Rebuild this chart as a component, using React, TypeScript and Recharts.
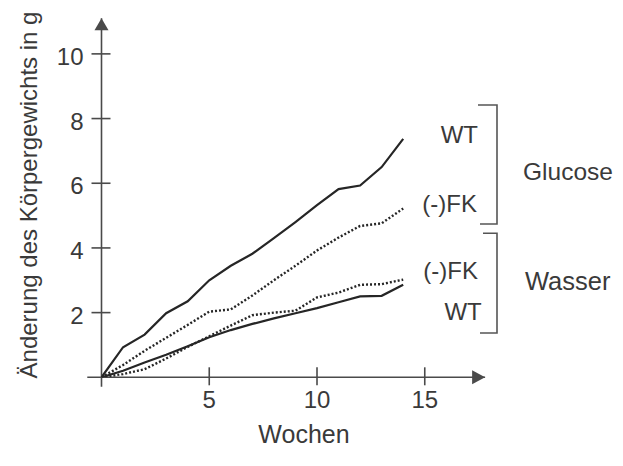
import {
  LineChart,
  Line,
  XAxis,
  YAxis,
  ReferenceLine,
  ReferenceDot,
  Customized,
} from 'recharts'

const weeks = [0, 1, 2, 3, 4, 5, 6, 7, 8, 9, 10, 11, 12, 13, 14]
const glucoseWT = [0, 0.93, 1.32, 1.98, 2.35, 3.0, 3.45, 3.82, 4.3, 4.8, 5.32, 5.82, 5.93, 6.5, 7.37]
const glucoseFK = [0, 0.38, 0.82, 1.22, 1.62, 2.03, 2.1, 2.53, 3.0, 3.45, 3.92, 4.32, 4.68, 4.76, 5.22]
const wasserFK = [0, 0.1, 0.25, 0.58, 0.94, 1.27, 1.6, 1.92, 2.0, 2.06, 2.47, 2.62, 2.86, 2.88, 3.02]
const wasserWT = [0, 0.2, 0.46, 0.7, 0.96, 1.24, 1.46, 1.65, 1.82, 1.98, 2.14, 2.32, 2.5, 2.52, 2.86]

const xTicks = [5, 10, 15]
const yTicks = [2, 4, 6, 8, 10]

const data = weeks.map((w, i) => ({
  week: w,
  glucoseWT: glucoseWT[i],
  glucoseFK: glucoseFK[i],
  wasserFK: wasserFK[i],
  wasserWT: wasserWT[i],
}))

const ink = '#3a3a3a'
const axisInk = '#4a4a4a'
const lineInk = '#262626'
const font = '"Liberation Sans", Arial, sans-serif'

function YTick({ x, y, payload }: any) {
  return (
    <g>
      <line x1={x - 10} x2={x + 9} y1={y} y2={y} stroke={axisInk} strokeWidth={1.6} />
      <text x={x - 18} y={y + 11} textAnchor="end" fontSize={24} fill={ink} fontFamily={font}>
        {payload.value}
      </text>
    </g>
  )
}

function XTick({ x, y, payload }: any) {
  return (
    <g>
      <line x1={x} x2={x} y1={y - 10} y2={y + 8} stroke={axisInk} strokeWidth={1.6} />
      <text x={x} y={y + 31} textAnchor="middle" fontSize={24} fill={ink} fontFamily={font}>
        {payload.value}
      </text>
    </g>
  )
}

const arrowRight = ({ cx, cy }: any) => (
  <path d={`M${cx},${cy} L${cx - 13},${cy - 7} L${cx - 13},${cy + 7} Z`} fill={axisInk} />
)
const arrowUp = ({ cx, cy }: any) => (
  <path d={`M${cx},${cy} L${cx - 7},${cy + 12} L${cx + 7},${cy + 12} Z`} fill={axisInk} />
)

function Annotations() {
  const t = { fontSize: 24, fill: ink, fontFamily: font }
  const b = { stroke: '#555', strokeWidth: 1.6, fill: 'none' }
  return (
    <g>
      <text {...t} x={28.5} y={187} textAnchor="middle" transform="rotate(-90, 28.5, 187)">
        Änderung des Körpergewichts in g
      </text>
      <text {...t} fontSize={25} x={296} y={435} textAnchor="middle">Wochen</text>
      <text {...t} x={470} y={134.6} textAnchor="end">WT</text>
      <text {...t} x={469} y={203.7} textAnchor="end">(-)FK</text>
      <text {...t} x={470} y={271.3} textAnchor="end">(-)FK</text>
      <text {...t} x={473.7} y={312} textAnchor="end">WT</text>
      <text {...t} fontSize={24.5} x={515} y={172}>Glucose</text>
      <text {...t} fontSize={25.5} x={517} y={282}>Wasser</text>
      <polyline {...b} points="470,97 489,97 489,216 472,216" />
      <polyline {...b} points="475,225.3 489,225.3 489,325 472,325" />
    </g>
  )
}

export default function App() {
  return (
    <LineChart
      width={615}
      height={458}
      data={data}
      margin={{ top: 10.3, right: 137.9, left: 33.5, bottom: 58.7 }}
    >
      <XAxis
        dataKey="week"
        type="number"
        domain={[0, 17.8]}
        ticks={xTicks}
        allowDataOverflow
        axisLine={false}
        tickLine={false}
        tickSize={0}
        tickMargin={0}
        height={30}
        tick={<XTick />}
      />
      <YAxis
        type="number"
        domain={[0, 11.1]}
        ticks={yTicks}
        allowDataOverflow
        axisLine={false}
        tickLine={false}
        tickSize={0}
        tickMargin={0}
        width={60}
        tick={<YTick />}
      />
      <ReferenceLine
        segment={[{ x: -0.66, y: 0 }, { x: 17.8, y: 0 }]}
        stroke={axisInk}
        strokeWidth={1.6}
        ifOverflow="visible"
      />
      <ReferenceLine
        segment={[{ x: 0, y: -0.29 }, { x: 0, y: 11.1 }]}
        stroke={axisInk}
        strokeWidth={1.6}
        ifOverflow="visible"
      />
      <ReferenceDot x={17.8} y={0} ifOverflow="visible" shape={arrowRight} />
      <ReferenceDot x={0} y={11.1} ifOverflow="visible" shape={arrowUp} />
      <Line type="linear" dataKey="glucoseWT" stroke={lineInk} strokeWidth={2.2} dot={false} isAnimationActive={false} />
      <Line type="linear" dataKey="glucoseFK" stroke={lineInk} strokeWidth={2.4} strokeDasharray="2 2" dot={false} isAnimationActive={false} />
      <Line type="linear" dataKey="wasserFK" stroke={lineInk} strokeWidth={2.4} strokeDasharray="2 2" dot={false} isAnimationActive={false} />
      <Line type="linear" dataKey="wasserWT" stroke={lineInk} strokeWidth={2.2} dot={false} isAnimationActive={false} />
      <Customized component={Annotations} />
    </LineChart>
  )
}
